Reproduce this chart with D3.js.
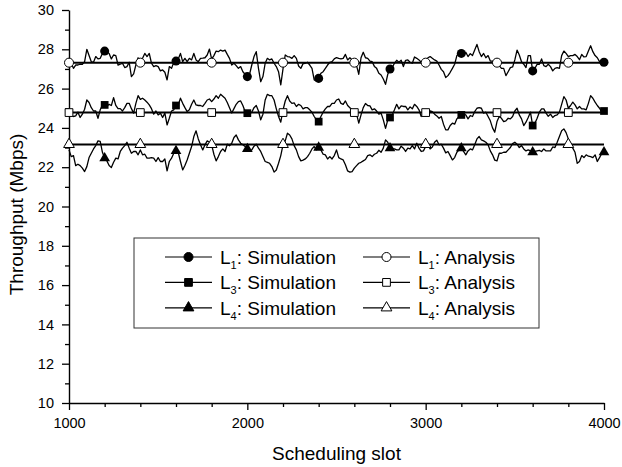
<!DOCTYPE html>
<html>
<head>
<meta charset="utf-8">
<script src="https://cdn.jsdelivr.net/npm/d3@7"></script>
<style>
body { margin: 0; background: #fff; }
text { font-family: "Liberation Sans", Arial, sans-serif; }
</style>
</head>
<body>
<div id="chart"></div>
<script>
// simulated throughput, one value every 12.5 slots from 1000 to 4000
var slots = d3.range(1000, 4000.1, 12.5)
var simL1 = [
  27.37, 27.29, 27.03, 27.20, 27.20, 27.25, 27.24, 27.37,
  28.00, 27.68, 27.37, 27.34, 27.63, 27.51, 27.54, 27.79,
  27.91, 27.88, 27.79, 27.51, 27.71, 27.68, 27.20, 27.24,
  27.29, 27.07, 27.12, 27.34, 26.61, 26.75, 27.20, 27.57,
  27.40, 27.54, 27.79, 27.63, 27.79, 27.29, 27.12, 27.17,
  27.12, 26.90, 26.95, 26.83, 26.44, 27.12, 27.03, 27.34,
  27.40, 27.51, 27.79, 27.37, 27.54, 27.37, 27.54, 27.46,
  27.79, 27.46, 27.37, 27.54, 27.55, 27.57, 27.71, 28.01,
  27.50, 27.68, 27.91, 27.88, 27.96, 27.91, 27.96, 27.74,
  27.54, 27.20, 27.29, 27.17, 27.03, 27.12, 26.86, 26.73,
  26.61, 26.73, 27.20, 27.63, 27.88, 27.03, 26.35, 26.61,
  27.29, 27.54, 27.46, 27.51, 27.29, 27.12, 26.86, 26.19,
  27.00, 27.71, 27.63, 27.61, 27.54, 27.68, 27.54, 27.15,
  27.03, 27.27, 27.29, 27.34, 27.20, 27.03, 26.44, 26.39,
  26.52, 26.78, 26.86, 27.03, 27.20, 27.34, 27.37, 27.51,
  27.58, 27.54, 27.51, 27.54, 27.74, 27.46, 27.57, 27.46,
  27.37, 27.17, 26.73, 27.57, 27.85, 27.57, 27.54, 27.40,
  27.37, 27.13, 27.03, 26.78, 26.69, 26.49, 26.22, 26.73,
  27.00, 27.07, 27.29, 27.44, 27.34, 27.44, 27.12, 27.44,
  27.46, 27.34, 27.29, 27.61, 27.54, 27.46, 27.34, 27.34,
  27.37, 27.57, 27.63, 27.54, 27.46, 27.40, 27.20, 26.98,
  26.86, 26.56, 26.66, 26.83, 27.03, 27.24, 27.68, 27.79,
  27.79, 27.68, 27.85, 27.63, 27.78, 27.68, 27.96, 28.25,
  27.88, 27.63, 27.79, 27.57, 27.68, 27.40, 27.40, 27.20,
  27.20, 27.17, 27.03, 27.03, 26.66, 26.86, 27.07, 27.10,
  27.46, 27.96, 27.71, 27.37, 27.24, 27.07, 27.68, 27.68,
  26.90, 27.03, 27.24, 27.24, 27.51, 27.17, 27.12, 27.24,
  27.12, 26.90, 27.03, 27.07, 27.03, 27.68, 27.91, 27.79,
  27.63, 27.68, 27.68, 27.74, 27.63, 27.47, 27.74, 27.61,
  27.63, 27.91, 28.18, 27.88, 27.68, 27.57, 27.37, 27.17,
  27.34]
var simL3 = [
  24.78, 24.63, 24.58, 24.61, 24.80, 24.53, 24.70, 24.95,
  25.42, 25.29, 25.03, 24.86, 24.86, 24.49, 24.92, 25.17,
  25.17, 25.10, 25.20, 25.14, 25.54, 25.14, 24.98, 24.98,
  24.86, 25.03, 25.25, 25.25, 24.98, 24.75, 25.25, 25.64,
  25.45, 25.51, 25.42, 25.31, 25.17, 24.98, 24.70, 24.86,
  24.66, 24.75, 24.53, 24.75, 24.15, 24.49, 24.86, 24.92,
  25.14, 25.17, 25.51, 25.25, 25.03, 24.83, 24.92, 25.20,
  25.42, 25.17, 25.14, 25.14, 25.09, 25.25, 25.42, 25.47,
  25.34, 25.47, 25.64, 25.51, 25.71, 25.61, 25.51, 25.29,
  25.03, 24.76, 24.98, 25.20, 25.34, 25.37, 25.14, 24.83,
  24.75, 24.73, 24.80, 25.03, 25.14, 24.86, 24.41, 24.70,
  25.42, 25.71, 25.64, 25.64, 25.42, 24.97, 24.58, 24.29,
  24.90, 25.37, 25.64, 25.37, 25.25, 25.27, 25.09, 25.20,
  25.14, 24.97, 25.03, 25.03, 24.92, 24.80, 24.58, 24.41,
  24.32, 24.58, 24.80, 24.97, 25.09, 25.09, 25.25, 25.25,
  25.42, 25.47, 25.25, 25.20, 25.37, 25.14, 25.03, 24.92,
  24.83, 24.70, 24.24, 24.66, 25.03, 25.24, 25.14, 25.12,
  24.92, 24.97, 24.86, 24.70, 24.75, 24.41, 23.98, 24.41,
  24.53, 24.66, 24.92, 25.20, 24.97, 25.12, 25.09, 25.09,
  24.92, 25.07, 24.97, 25.20, 25.09, 24.92, 24.58, 24.75,
  24.80, 24.83, 24.86, 24.83, 24.70, 24.61, 24.49, 24.58,
  24.19, 23.90, 23.90, 24.12, 24.24, 24.19, 24.46, 24.58,
  24.66, 24.73, 24.66, 24.46, 24.63, 24.58, 24.83, 25.00,
  25.03, 25.00, 24.75, 24.80, 24.58, 24.36, 24.00, 23.78,
  24.32, 24.58, 24.49, 24.32, 24.36, 24.49, 24.46, 24.58,
  24.86, 25.00, 24.66, 24.46, 24.12, 24.29, 24.53, 24.80,
  24.12, 24.24, 24.49, 24.80, 24.97, 24.97, 24.75, 24.59,
  24.70, 24.53, 24.63, 24.66, 24.80, 25.20, 25.59, 25.42,
  25.00, 25.14, 25.31, 25.17, 24.97, 25.09, 24.97, 24.97,
  24.92, 25.25, 25.64, 25.51, 25.31, 25.14, 25.00, 24.80,
  24.86]
var simL4 = [
  22.88, 22.54, 22.59, 22.08, 22.15, 22.08, 21.95, 21.78,
  22.03, 22.49, 22.71, 22.93, 23.10, 23.34, 23.31, 22.76,
  22.46, 22.32, 22.09, 21.98, 22.25, 22.46, 22.42, 22.80,
  22.97, 23.10, 23.27, 22.97, 22.71, 22.80, 22.80, 22.63,
  22.88, 22.63, 22.66, 22.46, 22.46, 22.49, 22.46, 22.29,
  22.49, 22.29, 22.29, 22.42, 21.81, 22.29, 22.46, 22.71,
  22.83, 22.76, 22.29, 21.86, 22.09, 22.37, 22.71, 23.05,
  23.56, 23.85, 23.44, 23.14, 22.88, 23.14, 23.34, 23.27,
  23.14, 22.66, 22.32, 22.54, 22.80, 22.93, 22.80, 23.17,
  23.09, 23.22, 23.51, 23.64, 23.39, 23.22, 23.14, 23.05,
  22.93, 22.83, 22.88, 23.07, 23.17, 22.97, 22.80, 22.54,
  22.29, 22.25, 22.20, 22.03, 21.75, 21.86, 22.20, 22.59,
  23.14, 23.34, 23.73, 23.64, 23.44, 23.10, 22.88, 22.54,
  22.32, 22.36, 22.42, 22.54, 22.71, 22.93, 23.05, 22.88,
  23.00, 22.88, 22.66, 22.63, 22.42, 22.54, 22.42, 22.59,
  22.88, 22.49, 22.42, 22.37, 22.12, 21.81, 21.75, 21.78,
  21.95, 22.08, 22.20, 22.25, 22.32, 22.39, 22.59, 22.63,
  22.54, 22.66, 22.71, 22.86, 22.76, 22.97, 23.39, 23.27,
  22.97, 22.93, 22.93, 22.88, 22.88, 23.07, 22.97, 22.80,
  22.97, 22.93, 23.10, 22.93, 23.22, 22.97, 22.80, 22.83,
  23.05, 23.14, 22.93, 23.03, 23.27, 23.37, 23.14, 23.17,
  22.97, 22.73, 22.80, 22.59, 22.37, 22.49, 22.76, 22.88,
  22.97, 22.80, 22.63, 22.83, 22.93, 22.88, 23.14, 23.44,
  23.56, 23.39, 23.34, 23.27, 23.14, 22.83, 22.63, 22.36,
  22.32, 22.71, 22.71, 22.76, 22.76, 22.88, 23.00, 23.20,
  23.27, 23.17, 23.00, 23.10, 22.93, 22.83, 22.88, 22.83,
  22.76, 22.80, 22.83, 22.86, 22.80, 22.93, 22.83, 22.83,
  22.83, 23.03, 23.00, 23.27, 23.56, 23.85, 23.95, 23.76,
  23.44, 23.17, 22.97, 22.76, 22.20, 22.29, 22.59, 22.49,
  22.63, 22.56, 22.54, 22.49, 22.63, 22.29, 22.49, 22.70,
  22.76]
// analytical throughput (flat lines)
var anaL1 = 27.32, anaL3 = 24.78, anaL4 = 23.16
var analysisMarks = [1000, 1400, 1800, 2200, 2600, 3000, 3400, 3800]
var simMarks = [1200, 1600, 2000, 2400, 2800, 3200, 3600, 4000]
var xTicks = [1000, 2000, 3000, 4000]
var xMinor = [1200, 1400, 1600, 1800, 2200, 2400, 2600, 2800, 3200, 3400, 3600, 3800]
var yTicks = [10, 12, 14, 16, 18, 20, 22, 24, 26, 28, 30]
var yMinor = [11, 13, 15, 17, 19, 21, 23, 25, 27, 29]

var margin = {top: 10, right: 18, bottom: 64, left: 69},
    width = 622 - margin.left - margin.right,
    height = 467 - margin.top - margin.bottom;

var svg = d3.select("#chart")
  .append("svg")
    .attr("width", 622)
    .attr("height", 467)
  .append("g")
    .attr("transform", "translate(" + margin.left + "," + margin.top + ")");

var x = d3.scaleLinear().domain([1000, 4000]).range([0, width])
var y = d3.scaleLinear().domain([10, 30]).range([height, 0])

// minor ticks first, then the main axes on top
svg.append("g")
  .attr("transform", "translate(0," + height + ")")
  .call(d3.axisBottom(x).tickValues(xMinor).tickSize(4).tickFormat(""))
  .call(function(g){ g.select(".domain").remove() })
svg.append("g")
  .call(d3.axisLeft(y).tickValues(yMinor).tickSize(4).tickFormat(""))
  .call(function(g){ g.select(".domain").remove() })

svg.append("g")
  .attr("transform", "translate(0," + height + ")")
  .call(d3.axisBottom(x).tickValues(xTicks).tickSize(7).tickSizeOuter(0).tickPadding(8).tickFormat(d3.format("d")))
svg.append("g")
  .call(d3.axisLeft(y).tickValues(yTicks).tickSize(7).tickSizeOuter(0).tickPadding(8))

svg.selectAll(".tick line").attr("stroke", "#000").attr("stroke-width", 1.3)
svg.selectAll(".domain").attr("stroke", "#000").attr("stroke-width", 1.4)
svg.selectAll(".tick text").style("font-size", "14.5px").attr("fill", "#000")

// axis titles
svg.append("text")
  .attr("x", width / 2).attr("y", 450)
  .attr("text-anchor", "middle")
  .style("font-size", "19px")
  .text("Scheduling slot")
svg.append("text")
  .attr("transform", "translate(" + (-46) + "," + (height / 2 + 8) + ") rotate(-90)")
  .attr("text-anchor", "middle")
  .style("font-size", "19px")
  .text("Throughput (Mbps)")

var line = d3.line()
  .x(function(d, i) { return x(slots[i]) })
  .y(function(d) { return y(d) })

var series = [
  {sim: simL1, ana: anaL1, shape: "circle", sub: "1"},
  {sim: simL3, ana: anaL3, shape: "square", sub: "3"},
  {sim: simL4, ana: anaL4, shape: "triangle", sub: "4"}
]

var symbolOf = {
  circle: d3.symbol().type(d3.symbolCircle).size(64),
  square: d3.symbol().type(d3.symbolSquare).size(60),
  triangle: d3.symbol().type(d3.symbolTriangle).size(50)
}

series.forEach(function(s){
  svg.append("path")
    .datum(s.sim)
    .attr("fill", "none")
    .attr("stroke", "#000")
    .attr("stroke-width", 1.3)
    .attr("stroke-linejoin", "round")
    .attr("d", line)

  svg.append("line")
    .attr("x1", x(1000)).attr("x2", x(4000))
    .attr("y1", y(s.ana)).attr("y2", y(s.ana))
    .attr("stroke", "#000")
    .attr("stroke-width", 2)

  svg.selectAll(null)
    .data(simMarks)
    .enter().append("path")
      .attr("d", symbolOf[s.shape])
      .attr("transform", function(d) { return "translate(" + x(d) + "," + y(s.sim[(d - 1000) / 12.5]) + ")" })
      .attr("fill", "#000")

  svg.selectAll(null)
    .data(analysisMarks)
    .enter().append("path")
      .attr("d", symbolOf[s.shape])
      .attr("transform", function(d) { return "translate(" + x(d) + "," + y(s.ana) + ")" })
      .attr("fill", "#fff")
      .attr("stroke", "#000")
      .attr("stroke-width", 1)
})

// legend, centred over the plot
var lg = svg.append("g").attr("transform", "translate(" + (134 - margin.left) + "," + (238 - margin.top) + ")")
lg.append("rect")
  .attr("width", 405).attr("height", 90)
  .attr("fill", "#fff")
  .attr("stroke", "#333")
  .attr("stroke-width", 1)

series.forEach(function(s, i){
  var cy = 19 + i * 25.4
  ;[{dx: 31, filled: true, label: ": Simulation"}, {dx: 229, filled: false, label: ": Analysis"}].forEach(function(c){
    lg.append("line")
      .attr("x1", c.dx).attr("x2", c.dx + 47)
      .attr("y1", cy).attr("y2", cy)
      .attr("stroke", "#000").attr("stroke-width", 1.2)
    lg.append("path")
      .attr("d", symbolOf[s.shape])
      .attr("transform", "translate(" + (c.dx + 23.5) + "," + cy + ")")
      .attr("fill", c.filled ? "#000" : "#fff")
      .attr("stroke", "#000").attr("stroke-width", 1)
    var t = lg.append("text")
      .attr("x", c.dx + 55).attr("y", cy + 7)
      .style("font-size", "19px")
    t.append("tspan").text("L")
    t.append("tspan").attr("dy", 5).style("font-size", "11px").text(s.sub)
    t.append("tspan").attr("dy", -5).text(c.label)
  })
})
</script>
</body>
</html>
